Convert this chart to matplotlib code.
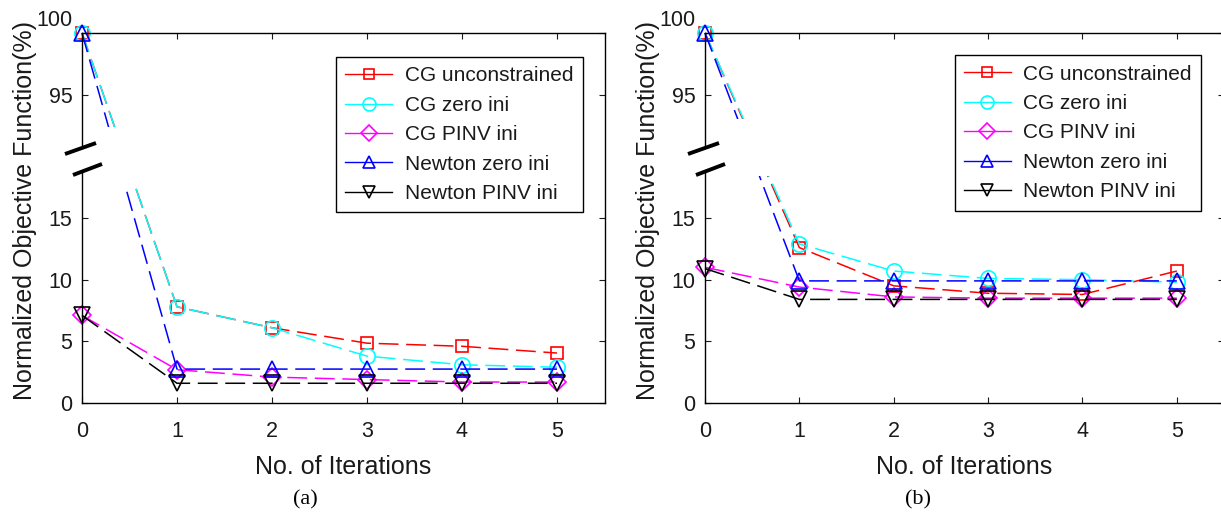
import numpy as np
import matplotlib
matplotlib.use("Agg")
import matplotlib.pyplot as plt
import matplotlib.transforms as mtransforms
from matplotlib.lines import Line2D

plt.rcParams['font.family'] = ['Liberation Sans', 'DejaVu Sans']

# ---------------- data ----------------
iterations = [0, 1, 2, 3, 4, 5]
series_names = ["CG unconstrained", "CG zero ini", "CG PINV ini", "Newton zero ini", "Newton PINV ini"]

# panel (a)
a_cg_unconstrained = [100, 7.8, 6.1, 4.85, 4.6, 4.05]
a_cg_zero = [100, 7.8, 6.1, 3.8, 3.1, 2.9]
a_cg_pinv = [7.1, 2.7, 2.1, 1.9, 1.7, 1.7]
a_newton_zero = [100, 2.75, 2.75, 2.75, 2.75, 2.75]
a_newton_pinv = [7.1, 1.6, 1.6, 1.6, 1.6, 1.6]

# panel (b)
b_cg_unconstrained = [100, 12.6, 9.5, 8.9, 8.8, 10.7]
b_cg_zero = [100, 12.9, 10.7, 10.1, 10.0, 9.8]
b_cg_pinv = [11.0, 9.4, 8.6, 8.5, 8.5, 8.5]
b_newton_zero = [100, 9.9, 9.9, 9.9, 9.9, 9.9]
b_newton_pinv = [10.9, 8.4, 8.4, 8.4, 8.4, 8.4]

y_ticks = [0, 5, 10, 15, 20, 95, 100]
y_tick_labels = ["0", "5", "10", "15", "", "95", "100"]
x_ticks = [0, 1, 2, 3, 4, 5]
x_label = "No. of Iterations"
y_label = "Normalized Objective Function(%)"
captions = ["(a)", "(b)"]

colors = ["#ff0000", "#00ffff", "#ff00ff", "#0000ff", "#000000"]
markers = ["s", "o", "D", "^", "v"]
msizes = [9, 11, 9, 11, 11]

# broken axis: values in (20, 90) are cut out
BREAK_LO, BREAK_HI = 20.0, 90.0


def fwd(v):
    v = np.asarray(v, dtype=float)
    return np.where(v <= BREAK_LO, v,
                    np.where(v >= BREAK_HI, v - (BREAK_HI - BREAK_LO), BREAK_LO))


def inv(m):
    m = np.asarray(m, dtype=float)
    return np.where(m <= BREAK_LO, m, m + (BREAK_HI - BREAK_LO))


W, H = 1221, 518
fig = plt.figure(figsize=(W / 100, H / 100), dpi=100)

panels = [
    dict(data=[a_cg_unconstrained, a_cg_zero, a_cg_pinv, a_newton_zero, a_newton_pinv],
         left=82, right=604.5, band=(17.5, 22.4), legend_anchor=(0.958, 0.935), cap_x=305),
    dict(data=[b_cg_unconstrained, b_cg_zero, b_cg_pinv, b_newton_zero, b_newton_pinv],
         left=705, right=1224, band=(18.4, 23.0), legend_anchor=(0.956, 0.94), cap_x=918),
]

txt_col = "#1a1a1a"
top_px, bot_px = 33, 403
for idx, p in enumerate(panels):
    axw = p["right"] - p["left"]
    axh = bot_px - top_px
    ax = fig.add_axes([p["left"] / W, (H - bot_px) / H, axw / W, axh / H])
    ax.set_yscale("function", functions=(fwd, inv))
    ax.set_xlim(0, 5.5)
    ax.set_ylim(0, 100)

    for vals, c, m, ms in zip(p["data"], colors, markers, msizes):
        ax.plot(iterations, vals, color=c, linestyle="--", dashes=(13, 5), lw=1.1,
                marker=m, markersize=ms, markerfacecolor="none", markeredgecolor=c,
                markeredgewidth=1.2, clip_on=False, zorder=2)

    # white band hiding the cut region of the lines
    ax.axhspan(p["band"][0], float(inv(p["band"][1])), color="white", zorder=2.1, lw=0)

    ax.set_xticks(x_ticks)
    ax.set_yticks(y_ticks)
    ax.set_yticklabels(y_tick_labels)
    ax.tick_params(direction="in", length=4, width=0.8, top=True, right=True,
                   labelsize=15.5, colors=txt_col)
    ax.tick_params(axis="y", pad=7)
    ax.tick_params(axis="x", pad=13)
    ticks = ax.yaxis.get_major_ticks()
    ticks[4].tick1line.set_visible(False)
    # raise the "100" label above the top
    for lab in ax.get_yticklabels():
        if lab.get_text() == "100":
            lab.set_transform(lab.get_transform() + mtransforms.ScaledTranslation(0, 15 / 100, fig.dpi_scale_trans))

    for s in ["top", "right", "bottom"]:
        ax.spines[s].set_linewidth(1.0)
    ax.spines["left"].set_visible(False)

    # left spine with a gap
    gap_lo = (bot_px - 173) / axh * 30
    gap_hi = (bot_px - 145) / axh * 30
    yt = ax.get_yaxis_transform()
    ax.plot([0, 0], [0, float(inv(gap_lo))], transform=yt, color="k", lw=1.0, clip_on=False, zorder=3)
    ax.plot([0, 0], [float(inv(gap_hi)), 100], transform=yt, color="k", lw=1.0, clip_on=False, zorder=3)

    # break marks (pixel offsets from the spine)
    def slash(x0, y0, x1, y1):
        ax.plot([(x0 - 82) / axw, (x1 - 82) / axw],
                [(bot_px - y0) / axh, (bot_px - y1) / axh],
                transform=ax.transAxes, color="k", lw=2.8, clip_on=False, zorder=4,
                solid_capstyle="butt")
    slash(65, 154, 96, 143)
    slash(73, 175, 102, 164)

    ax.set_xlabel(x_label, fontsize=18, labelpad=9, color=txt_col)
    ax.set_ylabel(y_label, fontsize=18, color=txt_col)
    ax.yaxis.set_label_coords((37 - 82) / axw, (bot_px - 210) / axh)

    handles = [Line2D([], [], color=c, lw=1.0, marker=m, markersize=ms * 0.85,
                      markerfacecolor="none", markeredgecolor=c, markeredgewidth=1.2)
               for c, m, ms in zip(colors, markers, msizes)]
    leg = ax.legend(handles, series_names, loc="upper right", bbox_to_anchor=p["legend_anchor"],
                    borderaxespad=0, fontsize=15, frameon=True, fancybox=False,
                    edgecolor="black", framealpha=1, handlelength=2.25, labelspacing=0.5,
                    handletextpad=0.6, borderpad=0.45)
    for t in leg.get_texts():
        t.set_color(txt_col)
    leg.get_frame().set_linewidth(1.0)
    leg.set_zorder(5)

    fig.text(p["cap_x"] / W, 1 - 500 / H, captions[idx], fontsize=16,
             family=["Liberation Serif", "DejaVu Serif"], ha="center", va="center")

fig.savefig("out.png", dpi=100)
